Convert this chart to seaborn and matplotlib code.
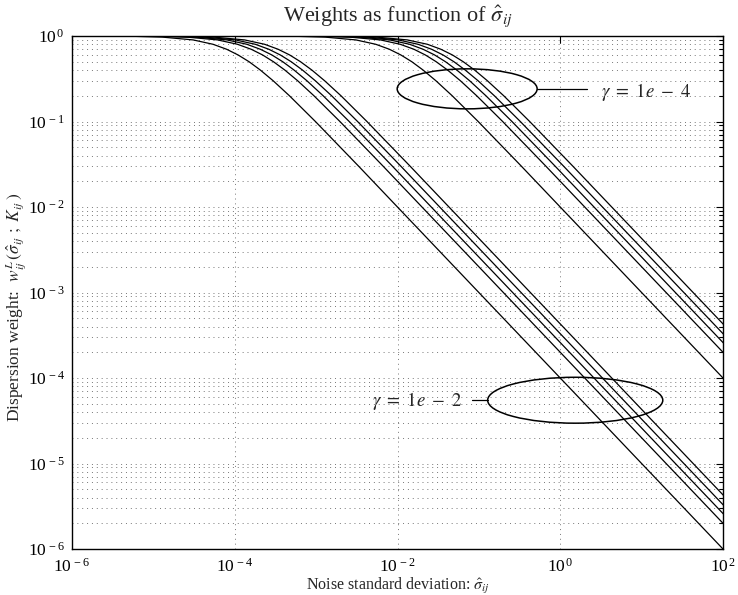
import numpy as np
import pandas as pd
import matplotlib
matplotlib.use("Agg")
import matplotlib.pyplot as plt
import seaborn as sns
from matplotlib.patches import Ellipse
from matplotlib.ticker import FixedLocator, FixedFormatter, LogLocator, NullLocator, NullFormatter

# ---- data -----------------------------------------------------------------
# weight levels at which each curve's sigma was read
weight_levels = [1.0, 0.999, 0.99, 0.97, 0.9, 0.8, 0.7, 0.6, 0.5, 0.4, 0.3, 0.2, 0.1, 0.03, 1e-7]

# gamma = 1e-2 family (left / lower bundle)
sigma_g2_1 = [1e-6, 1.31e-6, 6.13e-6, 1.30e-5, 3.08e-5, 5.41e-5, 7.94e-5, 1.10e-4, 1.50e-4, 2.06e-4, 2.96e-4, 4.70e-4, 9.80e-4, 3.33e-3, 1.0e3]
sigma_g2_2 = [1e-6, 2.62e-6, 1.23e-5, 2.60e-5, 6.16e-5, 1.08e-4, 1.59e-4, 2.20e-4, 2.99e-4, 4.12e-4, 5.92e-4, 9.40e-4, 1.96e-3, 6.66e-3, 2.0e3]
sigma_g2_3 = [1e-6, 3.41e-6, 1.59e-5, 3.38e-5, 8.01e-5, 1.41e-4, 2.06e-4, 2.86e-4, 3.89e-4, 5.35e-4, 7.69e-4, 1.22e-3, 2.55e-3, 8.66e-3, 2.6e3]
sigma_g2_4 = [1e-6, 4.32e-6, 2.02e-5, 4.29e-5, 1.02e-4, 1.79e-4, 2.62e-4, 3.63e-4, 4.94e-4, 6.79e-4, 9.76e-4, 1.55e-3, 3.23e-3, 1.10e-2, 3.3e3]
sigma_g2_5 = [1e-6, 5.63e-6, 2.64e-5, 5.59e-5, 1.32e-4, 2.33e-4, 3.41e-4, 4.73e-4, 6.43e-4, 8.85e-4, 1.27e-3, 2.02e-3, 4.21e-3, 1.43e-2, 4.3e3]

# gamma = 1e-4 family (right / upper bundle)
sigma_g4_1 = [1e-6, 1.31e-4, 6.13e-4, 1.30e-3, 3.08e-3, 5.41e-3, 7.94e-3, 1.10e-2, 1.50e-2, 2.06e-2, 2.96e-2, 4.70e-2, 9.80e-2, 3.33e-1, 1.0e5]
sigma_g4_2 = [1e-6, 2.62e-4, 1.23e-3, 2.60e-3, 6.16e-3, 1.08e-2, 1.59e-2, 2.20e-2, 2.99e-2, 4.12e-2, 5.92e-2, 9.40e-2, 1.96e-1, 6.66e-1, 2.0e5]
sigma_g4_3 = [1e-6, 3.41e-4, 1.59e-3, 3.38e-3, 8.01e-3, 1.41e-2, 2.06e-2, 2.86e-2, 3.89e-2, 5.35e-2, 7.69e-2, 1.22e-1, 2.55e-1, 8.66e-1, 2.6e5]
sigma_g4_4 = [1e-6, 4.32e-4, 2.02e-3, 4.29e-3, 1.02e-2, 1.79e-2, 2.62e-2, 3.63e-2, 4.94e-2, 6.79e-2, 9.76e-2, 1.55e-1, 3.23e-1, 1.10e0, 3.3e5]
sigma_g4_5 = [1e-6, 5.63e-4, 2.64e-3, 5.59e-3, 1.32e-2, 2.33e-2, 3.41e-2, 4.73e-2, 6.43e-2, 8.85e-2, 1.27e-1, 2.02e-1, 4.21e-1, 1.43e0, 4.3e5]

x_tick_values = [1e-6, 1e-4, 1e-2, 1e0, 1e2]
x_tick_labels = [r"$\mathregular{10^{\,-6}}$", r"$\mathregular{10^{\,-4}}$", r"$\mathregular{10^{\,-2}}$",
                 r"$\mathregular{10^{\,0}}$", r"$\mathregular{10^{\,2}}$"]
y_tick_values = [1e-6, 1e-5, 1e-4, 1e-3, 1e-2, 1e-1, 1e0]
y_tick_labels = [r"$\mathregular{10^{\,-6}}$", r"$\mathregular{10^{\,-5}}$", r"$\mathregular{10^{\,-4}}$",
                 r"$\mathregular{10^{\,-3}}$", r"$\mathregular{10^{\,-2}}$", r"$\mathregular{10^{\,-1}}$",
                 r"$\mathregular{10^{\,0}}$"]

title_text = r"Weights as function of $\hat{\sigma}_{ij}$"
xlabel_text = r"Noise standard deviation: $\hat{\sigma}_{ij}$"
ylabel_text = r"Dispersion weight:  $w^{L}_{ij}\,(\hat{\sigma}_{ij}\ ;\ K_{ij}\,)$"
label_g4 = r"$\gamma\ =\ 1e\ -\ 4$"
label_g2 = r"$\gamma\ =\ 1e\ -\ 2$"

# ---- build long table ------------------------------------------------------
curves = {
    "g2_1": sigma_g2_1, "g2_2": sigma_g2_2, "g2_3": sigma_g2_3, "g2_4": sigma_g2_4, "g2_5": sigma_g2_5,
    "g4_1": sigma_g4_1, "g4_2": sigma_g4_2, "g4_3": sigma_g4_3, "g4_4": sigma_g4_4, "g4_5": sigma_g4_5,
}
rows = []
for name, sig in curves.items():
    for s, w in zip(sig, weight_levels):
        rows.append({"curve": name, "sigma": s, "weight": w})
df = pd.DataFrame(rows)

# ---- style -----------------------------------------------------------------
sns.set_style("white")
plt.rcParams["font.family"] = ["Liberation Serif", "DejaVu Serif"]
plt.rcParams["mathtext.fontset"] = "stix"

fig = plt.figure(figsize=(7.38, 5.95), dpi=100)
ax = fig.add_axes([72 / 738, 1 - 549 / 595, 651 / 738, 513 / 595])
ax.set_xscale("log")
ax.set_yscale("log")

sns.lineplot(data=df, x="sigma", y="weight", units="curve", estimator=None,
             sort=False, color="black", linewidth=0.9, ax=ax, legend=False)

ax.set_xlim(1e-6, 1e2)
ax.set_ylim(1e-6, 1e0)

ax.xaxis.set_major_locator(FixedLocator(x_tick_values))
ax.xaxis.set_major_formatter(FixedFormatter(x_tick_labels))
ax.xaxis.set_minor_locator(NullLocator())
ax.yaxis.set_major_locator(FixedLocator(y_tick_values))
ax.yaxis.set_major_formatter(FixedFormatter(y_tick_labels))
ax.yaxis.set_minor_locator(LogLocator(base=10, subs=np.arange(2, 10), numticks=20))
ax.yaxis.set_minor_formatter(NullFormatter())

ax.tick_params(which="both", direction="in", top=True, right=True, colors="black",
               labelsize=12.5, width=0.8)
ax.tick_params(which="major", length=5)
ax.tick_params(axis="x", which="major", pad=6)
ax.tick_params(axis="y", which="major", pad=5)
ax.tick_params(which="minor", length=3)

grid_kw = dict(color="#777777", linestyle=(0, (1, 4)), linewidth=0.7)
ax.grid(True, which="major", axis="both", **grid_kw)
ax.grid(True, which="minor", axis="y", **grid_kw)
ax.set_axisbelow(True)

for sp in ax.spines.values():
    sp.set_color("black")
    sp.set_linewidth(1.0)

ax.set_title(title_text, fontsize=16, pad=11)
ax.set_xlabel(xlabel_text, fontsize=11.5, labelpad=0.5)
ax.set_ylabel(ylabel_text, fontsize=12.5)
ax.yaxis.set_label_coords(-0.067, 0.47)

# annotations (ellipses + leader lines)
ax.add_patch(Ellipse((0.607, 0.897), 0.215, 0.078, transform=ax.transAxes,
                     fill=False, edgecolor="black", linewidth=1.1, zorder=5))
ax.plot([0.714, 0.791], [0.897, 0.897], transform=ax.transAxes, color="black", lw=0.9)
ax.text(0.812, 0.891, label_g4, transform=ax.transAxes, fontsize=13.5, va="center", ha="left")

ax.add_patch(Ellipse((0.773, 0.290), 0.269, 0.0895, transform=ax.transAxes,
                     fill=False, edgecolor="black", linewidth=1.1, zorder=5))
ax.plot([0.614, 0.639], [0.290, 0.290], transform=ax.transAxes, color="black", lw=0.9)
ax.text(0.600, 0.2885, label_g2, transform=ax.transAxes, fontsize=13.5, va="center", ha="right")

fig.savefig("out.png", dpi=100)
